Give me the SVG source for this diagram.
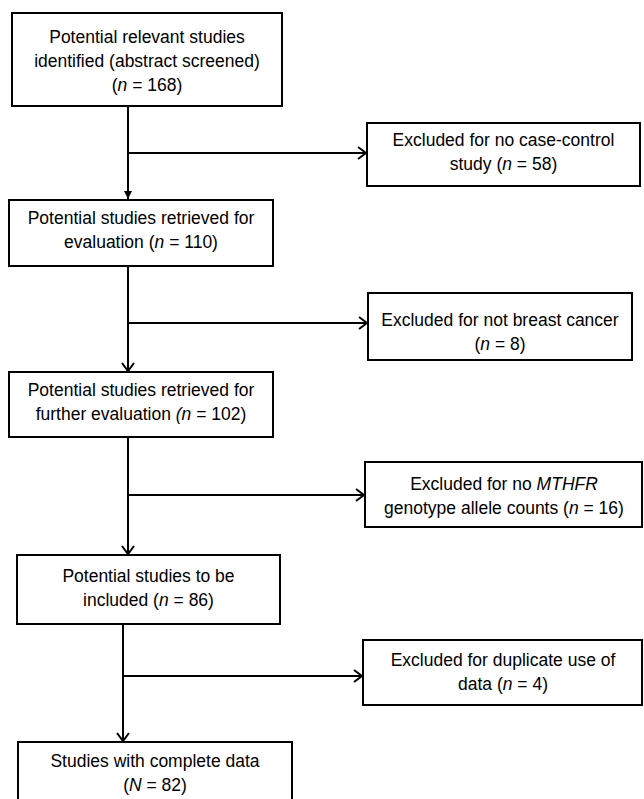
<svg xmlns="http://www.w3.org/2000/svg" width="644" height="799" viewBox="0 0 644 799">
<defs>
<style>
.box{fill:#fff;stroke:#000;stroke-width:2}
.t{font-family:"Liberation Sans",Arial,Helvetica,sans-serif;font-size:17.5px;fill:#000;text-anchor:middle}
.i{font-style:italic}
.c{fill:none;stroke:#000;stroke-width:2}
</style>
<marker id="fill" markerWidth="10" markerHeight="8" refX="9" refY="4" orient="auto" markerUnits="userSpaceOnUse">
<path d="M1,0 L9,4 L1,8 Z" fill="#000"/>
</marker>
<marker id="open" markerWidth="12" markerHeight="14" refX="10" refY="7" orient="auto" markerUnits="userSpaceOnUse">
<path d="M2,1 L10,7 L2,13" fill="none" stroke="#000" stroke-width="2"/>
</marker>
</defs>
<rect width="644" height="799" fill="#fff"/>
<g id="connectors">
<line class="c" x1="128" y1="106" x2="128" y2="199" marker-end="url(#fill)"/>
<line class="c" x1="128" y1="153" x2="366" y2="153" marker-end="url(#open)"/>
<line class="c" x1="128" y1="266" x2="128" y2="371" marker-end="url(#open)"/>
<line class="c" x1="128" y1="323" x2="367" y2="323" marker-end="url(#open)"/>
<line class="c" x1="128" y1="437" x2="128" y2="554" marker-end="url(#open)"/>
<line class="c" x1="128" y1="495" x2="364" y2="495" marker-end="url(#open)"/>
<line class="c" x1="123" y1="624" x2="123" y2="741" marker-end="url(#open)"/>
<line class="c" x1="123" y1="676" x2="362" y2="676" marker-end="url(#open)"/>
</g>
<g id="n1">
<rect class="box" x="12" y="13" width="270" height="93"/>
<text class="t" x="147" y="43">Potential relevant studies</text>
<text class="t" x="147" y="67">identified (abstract screened)</text>
<text class="t" x="147" y="91">(<tspan class="i">n</tspan> = 168)</text>
</g>
<g id="n2">
<rect class="box" x="9" y="200" width="264" height="66"/>
<text class="t" x="141" y="224">Potential studies retrieved for</text>
<text class="t" x="141" y="248">evaluation (<tspan class="i">n</tspan> = 110)</text>
</g>
<g id="n3">
<rect class="box" x="9" y="372" width="264" height="65"/>
<text class="t" x="141" y="396">Potential studies retrieved for</text>
<text class="t" x="141" y="420">further evaluation <tspan class="i">(n</tspan> = 102)</text>
</g>
<g id="n4">
<rect class="box" x="17" y="555" width="263" height="69"/>
<text class="t" x="148.5" y="582">Potential studies to be</text>
<text class="t" x="148.5" y="606">included (<tspan class="i">n</tspan> = 86)</text>
</g>
<g id="n5">
<rect class="box" x="18" y="742" width="274" height="70"/>
<text class="t" x="155" y="767">Studies with complete data</text>
<text class="t" x="155" y="791">(<tspan class="i">N</tspan> = 82)</text>
</g>
<g id="e1">
<rect class="box" x="367" y="123" width="273" height="63"/>
<text class="t" x="503.5" y="146">Excluded for no case-control</text>
<text class="t" x="503.5" y="170">study (<tspan class="i">n</tspan> = 58)</text>
</g>
<g id="e2">
<rect class="box" x="368" y="293" width="264" height="67"/>
<text class="t" x="500" y="326">Excluded for not breast cancer</text>
<text class="t" x="500" y="350">(<tspan class="i">n</tspan> = 8)</text>
</g>
<g id="e3">
<rect class="box" x="365" y="462" width="277" height="65"/>
<text class="t" x="504" y="490">Excluded for no <tspan class="i">MTHFR</tspan></text>
<text class="t" x="504" y="514">genotype allele counts (<tspan class="i">n</tspan> = 16)</text>
</g>
<g id="e4">
<rect class="box" x="363" y="640" width="279" height="65"/>
<text class="t" x="503" y="666">Excluded for duplicate use of</text>
<text class="t" x="503" y="690">data (<tspan class="i">n</tspan> = 4)</text>
</g>
</svg>
